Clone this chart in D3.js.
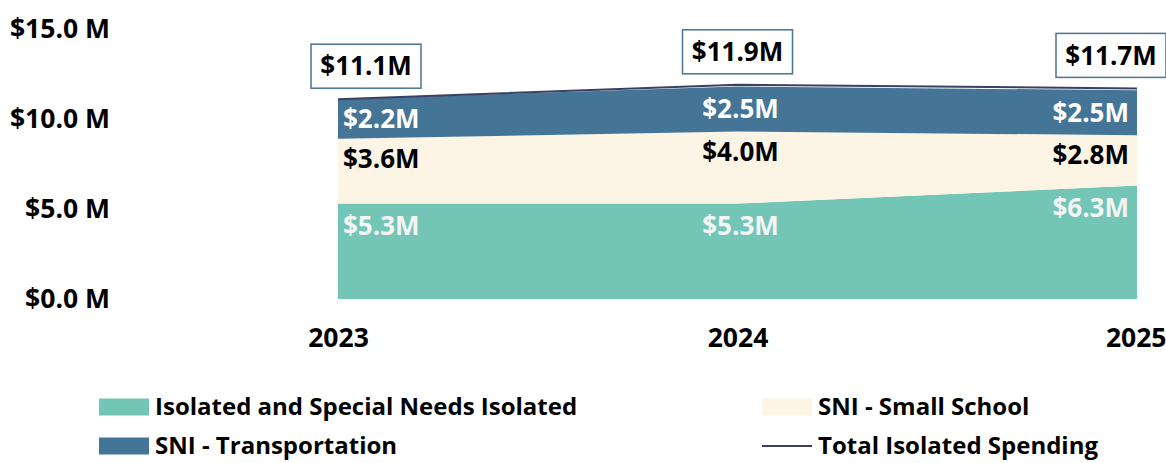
<!DOCTYPE html>
<html>
<head>
<meta charset="utf-8">
<script src="https://cdn.jsdelivr.net/npm/d3@7"></script>
<style>
  body { margin: 0; background: #fff; }
  svg { display: block; font-family: "Open Sans", Lato, sans-serif; font-weight: 700; }
</style>
</head>
<body>
<div id="chart"></div>
<script>
// chart data
const years = ["2023", "2024", "2025"]
const isolated = [5.3, 5.3, 6.3]
const smallSchool = [3.6, 4.0, 2.8]
const transportation = [2.2, 2.5, 2.5]
const totalSpending = [11.1, 11.9, 11.7]
const yTicks = [0, 5, 10, 15]

const seriesNames = ["Isolated and Special Needs Isolated", "SNI - Small School", "SNI - Transportation"]
const colors = ["#73c6b6", "#fcf4e4", "#457596"]
const labelColors = ["#f4f4f4", "#000", "#fff"]
const lineColor = "#3b3f62"
const font = "'Open Sans', Lato, sans-serif"

const width = 1166, height = 463

const svg = d3.select("#chart").append("svg")
  .attr("width", width)
  .attr("height", height)

const x = d3.scalePoint().domain(years).range([338, 1137])
const y = d3.scaleLinear().domain([0, 15]).range([299, 29])

const rows = years.map((yr, i) => ({
  year: yr, isolated: isolated[i], small: smallSchool[i], transport: transportation[i], total: totalSpending[i]
}))
const keys = ["isolated", "small", "transport"]
const stacked = d3.stack().keys(keys)(rows)

// y axis (labels only)
const yAxis = d3.axisLeft(y).tickValues(yTicks).tickSize(0).tickPadding(0)
  .tickFormat(d => "$" + d3.format(".1f")(d) + " M")
svg.append("g")
  .attr("transform", "translate(110,0)")
  .call(yAxis)
  .call(g => g.select(".domain").remove())
  .selectAll("text")
  .attr("font-family", font)
  .attr("font-weight", 700)
  .attr("font-size", 26.5)
  .attr("fill", "#000")

// x axis (labels only)
const xAxis = d3.axisBottom(x).tickSize(0).tickPadding(0)
svg.append("g")
  .attr("transform", "translate(0,328)")
  .call(xAxis)
  .call(g => g.select(".domain").remove())
  .selectAll("text")
  .attr("font-family", font)
  .attr("font-weight", 700)
  .attr("font-size", 26.5)
  .attr("fill", "#000")
  .attr("text-anchor", (d, i) => i === years.length - 1 ? "end" : "middle")
  .attr("dx", (d, i) => i === years.length - 1 ? 29 : 0)

// stacked areas
const area = d3.area()
  .x(d => x(d.data.year))
  .y0(d => y(d[0]))
  .y1(d => y(d[1]))

svg.append("g")
  .selectAll("path")
  .data(stacked)
  .join("path")
  .attr("d", area)
  .attr("fill", (d, i) => colors[i])

// total line
const line = d3.line()
  .x(d => x(d.year))
  .y(d => y(d.total))
svg.append("path")
  .datum(rows)
  .attr("d", line)
  .attr("fill", "none")
  .attr("stroke", lineColor)
  .attr("stroke-width", 2)

// data labels inside the bands
const fmt = v => "$" + d3.format(".1f")(v) + "M"
const anchorFor = i => i === 0 ? "start" : i === years.length - 1 ? "end" : "middle"
const dxFor = i => i === 0 ? 5 : i === years.length - 1 ? -8 : 3
const labelOffset = [22, 20, 0]

stacked.forEach((s, si) => {
  svg.append("g")
    .selectAll("text")
    .data(s)
    .join("text")
    .attr("x", (d, i) => x(d.data.year) + dxFor(i))
    .attr("y", d => si === 2 ? (y(d[0]) + y(d[1])) / 2 : y(d[1]) + labelOffset[si])
    .attr("dy", "0.35em")
    .attr("text-anchor", (d, i) => anchorFor(i))
    .attr("font-size", 26)
    .attr("fill", labelColors[si])
    .text(d => fmt(d[1] - d[0]))
})

// total callout boxes
const boxShift = [28, 0, -26]
const callouts = svg.append("g")
  .selectAll("g")
  .data(rows)
  .join("g")
  .attr("transform", (d, i) => `translate(${x(d.year) + boxShift[i]},${y(d.total) - 33})`)

callouts.append("rect")
  .attr("x", -55)
  .attr("y", -22)
  .attr("width", 110)
  .attr("height", 44)
  .attr("fill", "#fff")
  .attr("stroke", "#4a7394")
  .attr("stroke-width", 1.5)

callouts.append("text")
  .attr("text-anchor", "middle")
  .attr("dy", "0.35em")
  .attr("font-size", 26)
  .attr("fill", "#000")
  .text(d => fmt(d.total))

// legend
const legendItems = [
  {name: seriesNames[0], color: colors[0], type: "rect", x: 99, y: 407},
  {name: seriesNames[1], color: colors[1], type: "rect", x: 762, y: 407},
  {name: seriesNames[2], color: colors[2], type: "rect", x: 99, y: 446},
  {name: "Total Isolated Spending", color: lineColor, type: "line", x: 762, y: 446}
]

const legend = svg.append("g")
  .selectAll("g")
  .data(legendItems)
  .join("g")
  .attr("transform", d => `translate(${d.x},${d.y})`)

legend.filter(d => d.type === "rect").append("rect")
  .attr("x", 0).attr("y", -8.5)
  .attr("width", 50).attr("height", 17)
  .attr("fill", d => d.color)

legend.filter(d => d.type === "line").append("line")
  .attr("x1", 0).attr("x2", 50)
  .attr("stroke", d => d.color)
  .attr("stroke-width", 2)

legend.append("text")
  .attr("x", 56)
  .attr("dy", "0.35em")
  .attr("font-size", 24)
  .attr("fill", "#000")
  .text(d => d.name)
</script>
</body>
</html>
